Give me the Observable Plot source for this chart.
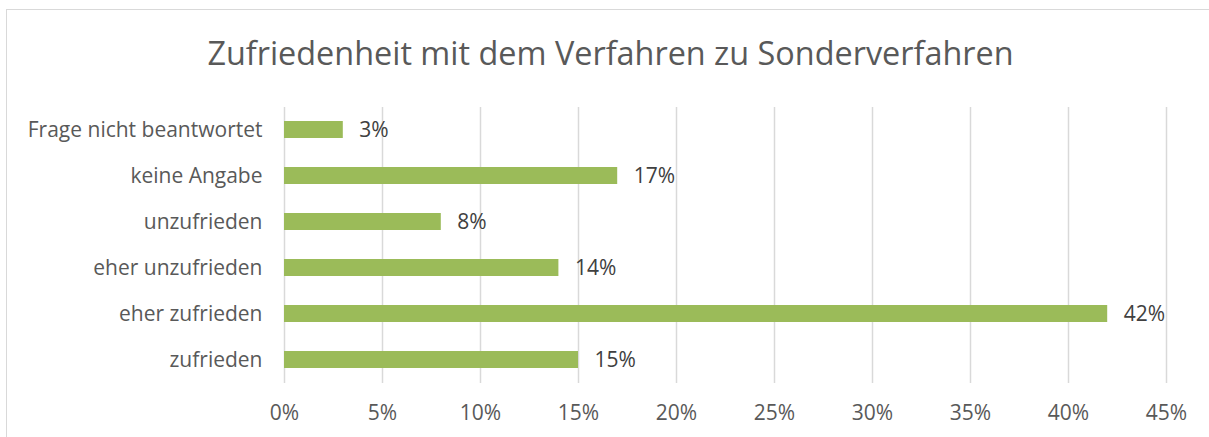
<!DOCTYPE html>
<html>
<head>
<meta charset="utf-8">
<script src="https://cdn.jsdelivr.net/npm/d3@7"></script>
<script src="https://cdn.jsdelivr.net/npm/@observablehq/plot@0.6"></script>
<style>
  html, body { margin: 0; padding: 0; background: #fff; overflow: hidden; width: 1209px; height: 437px; }
  #frame { position: absolute; left: 6px; top: 9px; width: 1400px; height: 600px; border: 1px solid #d9d9d9; box-sizing: border-box; }
  #title { position: absolute; left: 0; top: 0; width: 1221px; height: 95px; text-align: center; font-family: "Open Sans", sans-serif; font-size: 32.4px; color: #595959; line-height: 104px; white-space: nowrap; }
  #chart { position: absolute; left: 0; top: 95px; }
</style>
</head>
<body>
<div id="frame"></div>
<div id="title">Zufriedenheit mit dem Verfahren zu Sonderverfahren</div>
<div id="chart"></div>
<script>
const categories = ["Frage nicht beantwortet", "keine Angabe", "unzufrieden", "eher unzufrieden", "eher zufrieden", "zufrieden"];
const values = [0.03, 0.17, 0.08, 0.14, 0.42, 0.15];
const xTicks = [0, 0.05, 0.10, 0.15, 0.20, 0.25, 0.30, 0.35, 0.40, 0.45];

const data = categories.map((c, i) => ({category: c, value: values[i]}));
const pct = d => Math.round(d * 100) + "%";

const chart = Plot.plot({
  width: 1209,
  height: 342,
  marginTop: 12,
  marginBottom: 54,
  marginLeft: 284,
  marginRight: 43,
  style: {fontFamily: "'Open Sans', sans-serif", fontSize: "21px", color: "#595959", background: "transparent"},
  x: {domain: [0, 0.45], ticks: xTicks, tickFormat: pct, label: null, tickSize: 0, tickPadding: 22},
  y: {domain: categories, paddingInner: 0.63, paddingOuter: 0.315, label: null, tickSize: 0, tickPadding: 22},
  marks: [
    Plot.ruleX(xTicks, {stroke: "#d9d9d9", strokeWidth: 1.5}),
    Plot.barX(data, {x: "value", y: "category", fill: "#9bbb59"}),
    Plot.text(data, {x: "value", y: "category", text: d => pct(d.value), textAnchor: "start", dx: 16, fill: "#404040", fontSize: 21})
  ]
});
document.getElementById("chart").appendChild(chart);
</script>
</body>
</html>
